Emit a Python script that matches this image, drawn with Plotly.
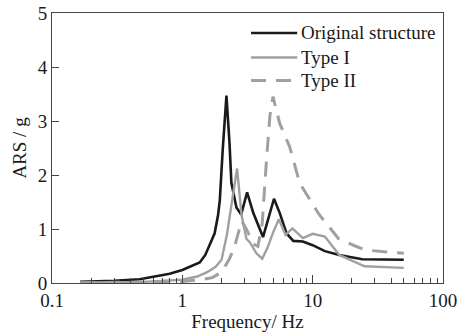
import plotly.graph_objects as go

# Frequency (Hz) and ARS (g)
f_orig = [0.164, 0.3, 0.47, 0.8, 1.0, 1.36, 1.5, 1.62, 1.77, 1.88, 1.94, 2.04, 2.18, 2.3, 2.38, 2.6, 2.83,
          3.14, 3.5, 4.16, 5.05, 5.6, 6.3, 7.1, 8.4, 10, 12.4, 16, 24, 50]
a_orig = [0.02, 0.04, 0.07, 0.17, 0.24, 0.38, 0.52, 0.7, 0.92, 1.26, 1.54, 2.46, 3.47, 2.6, 1.85, 1.4, 1.27,
          1.68, 1.3, 0.85, 1.56, 1.29, 0.92, 0.78, 0.77, 0.70, 0.59, 0.52, 0.44, 0.43]

f_t1 = [0.164, 0.5, 1.0, 1.3, 1.55, 1.8, 2.0, 2.2, 2.4, 2.63, 2.85, 2.93, 3.1, 3.3, 3.7, 4.1, 4.5,
        5.0, 5.5, 6.2, 7.0, 8.4, 10, 12.4, 16, 25, 50]
a_t1 = [0.01, 0.02, 0.06, 0.12, 0.2, 0.3, 0.43, 0.9, 1.5, 2.12, 1.25, 1.1, 0.82, 0.75, 0.55, 0.45, 0.65,
        0.95, 1.18, 0.89, 1.01, 0.83, 0.91, 0.86, 0.52, 0.31, 0.28]

f_t2 = [0.164, 0.5, 1.0, 1.4, 1.7, 2.0, 2.3, 2.5, 2.7, 2.85, 3.1, 3.5, 3.8, 4.1, 4.4, 4.7, 4.96,
        5.58, 6.67, 7.95, 11.2, 15.8, 21, 25.5, 50]
a_t2 = [0.0, 0.01, 0.03, 0.06, 0.1, 0.2, 0.45, 0.65, 0.95, 1.15, 1.0, 0.72, 0.68, 1.1, 2.2, 3.1, 3.45,
        2.96, 2.52, 1.85, 1.27, 0.82, 0.69, 0.61, 0.55]

names = ["Original structure", "Type I", "Type II"]
colors = ["#1a1a1a", "#a0a0a0", "#a0a0a0"]
widths = [2.6, 2.4, 3]
dashes = ["solid", "solid", "15px,10px"]

FONT = "Liberation Serif, Times New Roman, serif"
FS = 19

fig = go.Figure()
for fx, ay, nm, c, w, d in zip([f_orig, f_t1, f_t2], [a_orig, a_t1, a_t2], names, colors, widths, dashes):
    fig.add_trace(go.Scatter(x=fx, y=ay, mode="lines", name=nm,
                             line=dict(color=c, width=w, dash=d), showlegend=False))

# manual legend
leg_y = [0.926, 0.835, 0.75]
for nm, c, w, d, yy in zip(names, colors, widths, dashes, leg_y):
    fig.add_shape(type="line", xref="paper", yref="paper", x0=0.509, x1=0.627, y0=yy, y1=yy,
                  line=dict(color=c, width=w, dash=d))
    fig.add_annotation(xref="paper", yref="paper", x=0.632, y=yy, text=nm, showarrow=False,
                       xanchor="left", yanchor="middle", font=dict(family=FONT, size=FS, color="#1a1a1a"))

fig.update_xaxes(type="log", range=[-1, 2], tickvals=[0.1, 1, 10, 100], ticktext=["0.1", "1", "10", "100"],
                 ticks="inside", ticklen=8, tickcolor="#444", showline=True, linecolor="#444", linewidth=1,
                 mirror=True, showgrid=False, zeroline=False, automargin=False, ticklabeloverflow="allow",
                 minor=dict(ticks="inside", ticklen=5, tickcolor="#444", dtick="D1", showgrid=False),
                 title=dict(text="Frequency/ Hz", font=dict(family=FONT, size=FS, color="#1a1a1a"), standoff=0),
                 tickfont=dict(family=FONT, size=FS, color="#1a1a1a"))
fig.update_yaxes(range=[0, 5], dtick=1, ticks="inside", ticklen=7, tickcolor="#444", showline=True,
                 linecolor="#444", linewidth=1, mirror=True, showgrid=False, zeroline=False, automargin=False,
                 ticklabeloverflow="allow",
                 title=dict(text="ARS / g", font=dict(family=FONT, size=FS, color="#1a1a1a"), standoff=6),
                 tickfont=dict(family=FONT, size=FS, color="#1a1a1a"))

fig.update_layout(width=459, height=335, margin=dict(l=52, r=16, t=13, b=52),
                  plot_bgcolor="white", paper_bgcolor="white")

# remove the browser's default 8px body margin so the figure fills the window exactly
fig.write_html("out.html", config={"displayModeBar": False},
               post_script="document.body.style.margin='0';document.body.style.overflow='hidden';")
